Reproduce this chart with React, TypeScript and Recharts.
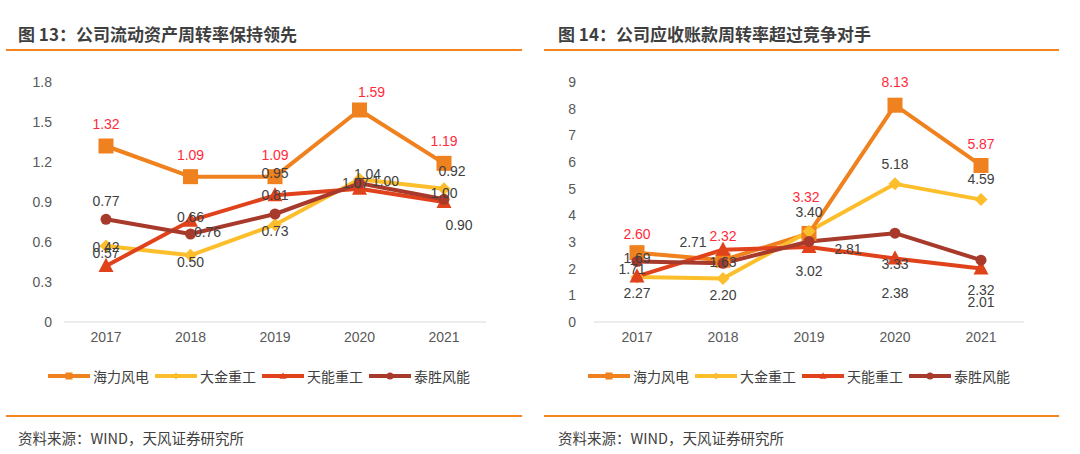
import React from 'react'
import { LineChart, Line, XAxis, YAxis, LabelList } from 'recharts'

const years = ['2017', '2018', '2019', '2020', '2021']
const seriesNames = ['海力风电', '大金重工', '天能重工', '泰胜风能']

// 图13 流动资产周转率
const assetHaili = [1.32, 1.09, 1.09, 1.59, 1.19]
const assetDajin = [0.57, 0.5, 0.73, 1.07, 1.0]
const assetTianneng = [0.42, 0.76, 0.95, 1.0, 0.9]
const assetTaisheng = [0.77, 0.66, 0.81, 1.04, 0.92]
const assetTicks = [0, 0.3, 0.6, 0.9, 1.2, 1.5, 1.8]

// 图14 应收账款周转率
const recvHaili = [2.6, 2.32, 3.32, 8.13, 5.87]
const recvDajin = [1.69, 1.63, 3.4, 5.18, 4.59]
const recvTianneng = [1.71, 2.71, 2.81, 2.38, 2.01]
const recvTaisheng = [2.27, 2.2, 3.02, 3.33, 2.32]
const recvTicks = [0, 1, 2, 3, 4, 5, 6, 7, 8, 9]

const keys = ['haili', 'dajin', 'tianneng', 'taisheng']
const colors = ['#F0811F', '#FDBE2C', '#E0421B', '#A83A2B']
const shapes = ['square', 'diamond', 'triangle', 'circle']
const labelColors = ['#FF2B3A', '#404040', '#404040', '#404040']

// label offsets (dx, dy) from each point, as placed in the original
const assetOffsets = [
  [[0, -22], [0, -22], [0, -22], [12, -18], [0, -22]],
  [[0, 7], [0, 7], [0, 6], [-4, 4], [0, 4]],
  [[0, -19], [17, 11], [0, -22], [26, -8], [15, 23]],
  [[0, -18], [0, -17], [0, -19], [8, -9], [8, -28]],
]
const recvOffsets = [
  [[0, -19], [0, -24], [-3, -36], [0, -23], [0, -21]],
  [[0, -19], [0, -17], [0, -19], [0, -20], [0, -21]],
  [[-5, -7], [-30, -8], [39, 2], [0, 34], [0, 34]],
  [[0, 32], [0, 32], [0, 30], [0, 31], [0, 30]],
]

const font = '"Liberation Sans", Arial, "Noto Sans CJK SC", sans-serif'
const cjk = '"Noto Sans CJK SC", "Liberation Sans", sans-serif'

const buildRows = (a: number[], b: number[], c: number[], d: number[]) =>
  years.map((year, i) => ({ year, haili: a[i], dajin: b[i], tianneng: c[i], taisheng: d[i] }))

const assetRows = buildRows(assetHaili, assetDajin, assetTianneng, assetTaisheng)
const recvRows = buildRows(recvHaili, recvDajin, recvTianneng, recvTaisheng)

function Marker({ shape, cx, cy, color, s }: any) {
  if (cx == null || cy == null) return null
  if (shape === 'square') return <rect x={cx - s / 2} y={cy - s / 2} width={s} height={s} fill={color} />
  if (shape === 'diamond')
    return <polygon points={`${cx},${cy - s / 2} ${cx + s / 2},${cy} ${cx},${cy + s / 2} ${cx - s / 2},${cy}`} fill={color} />
  if (shape === 'triangle')
    return <polygon points={`${cx},${cy - s * 0.55} ${cx + s / 2},${cy + s * 0.4} ${cx - s / 2},${cy + s * 0.4}`} fill={color} />
  return <circle cx={cx} cy={cy} r={s / 2} fill={color} />
}

const markerSizes = [15, 13, 15, 11]

function Chart({ rows, ticks, max, offsets, yWidth, rightMargin, pad, fmt }: any) {
  return (
    <LineChart width={540} height={360} data={rows} margin={{ top: 82, right: rightMargin, bottom: 8, left: 0 }}>
      <XAxis
        dataKey="year"
        axisLine={{ stroke: '#D9D9D9' }}
        tickLine={false}
        tickMargin={4}
        height={30}
        padding={{ left: pad, right: pad }}
        tick={{ fill: '#595959', fontSize: 14, fontFamily: font }}
      />
      <YAxis
        domain={[0, max]}
        ticks={ticks}
        width={yWidth}
        axisLine={false}
        tickLine={false}
        tickMargin={yWidth === 64 ? 6 : 12}
        tickFormatter={fmt}
        tick={{ fill: '#595959', fontSize: 14, fontFamily: font }}
      />
      {keys.map((k, si) => (
        <Line
          key={k}
          dataKey={k}
          stroke={colors[si]}
          strokeWidth={4}
          strokeLinejoin="round"
          isAnimationActive={false}
          dot={(p: any) => <Marker key={p.index} shape={shapes[si]} cx={p.cx} cy={p.cy} color={colors[si]} s={markerSizes[si]} />}
          activeDot={false}
        >
          <LabelList
            dataKey={k}
            content={(p: any) => {
              const x = p.x ?? p.viewBox?.x
              const y = p.y ?? p.viewBox?.y
              if (x == null || y == null) return null
              const [dx, dy] = offsets[si][p.index] || [0, -20]
              return (
                <text
                  x={x + dx}
                  y={y + dy}
                  textAnchor="middle"
                  dominantBaseline="central"
                  fill={labelColors[si]}
                  fontSize={14}
                  fontFamily={font}
                >
                  {Number(p.value).toFixed(2)}
                </text>
              )
            }}
          />
        </Line>
      ))}
    </LineChart>
  )
}

function Legend({ left }: { left: number }) {
  return (
    <div style={{ position: 'absolute', left, top: 366, display: 'flex', alignItems: 'center', height: 20 }}>
      {seriesNames.map((name, i) => (
        <div key={name} style={{ display: 'flex', alignItems: 'center', marginRight: 6 }}>
          <svg width={42} height={12}>
            <line x1={0} y1={6} x2={42} y2={6} stroke={colors[i]} strokeWidth={4} />
            <Marker shape={shapes[i]} cx={21} cy={6} color={colors[i]} s={7} />
          </svg>
          <span style={{ marginLeft: 3, fontSize: 14, color: '#404040', fontFamily: cjk }}>{name}</span>
        </div>
      ))}
    </div>
  )
}

function Panel({ left, title, lineLeft, lineWidth, children }: any) {
  return (
    <>
      <div
        style={{
          position: 'absolute',
          left: left + 18,
          top: 21,
          fontSize: 17,
          fontWeight: 'bold',
          color: '#3F3F3F',
          fontFamily: cjk,
          whiteSpace: 'nowrap',
        }}
      >
        {title}
      </div>
      <div style={{ position: 'absolute', left: lineLeft, top: 49, width: lineWidth, height: 2, background: '#F5841F' }} />
      <div style={{ position: 'absolute', left, top: 0 }}>{children}</div>
      <Legend left={left + 48} />
      <div style={{ position: 'absolute', left: lineLeft, top: 415, width: lineWidth, height: 2, background: '#F5841F' }} />
      <div
        style={{
          position: 'absolute',
          left: left + 18,
          top: 427,
          fontSize: 14.5,
          color: '#404040',
          fontFamily: cjk,
          whiteSpace: 'nowrap',
        }}
      >
        资料来源：WIND，天风证券研究所
      </div>
    </>
  )
}

export default function App() {
  return (
    <div style={{ position: 'absolute', left: 0, top: 0, width: 1080, height: 454, background: '#fff', overflow: 'hidden' }}>
      <Panel left={0} title="图 13：公司流动资产周转率保持领先" lineLeft={6} lineWidth={516}>
        <Chart
          rows={assetRows}
          ticks={assetTicks}
          max={1.8}
          offsets={assetOffsets}
          yWidth={64}
          rightMargin={54}
          pad={42}
          fmt={(v: number) => (v === 0 ? '0' : v.toFixed(1))}
        />
      </Panel>
      <Panel left={540} title="图 14：公司应收账款周转率超过竞争对手" lineLeft={544} lineWidth={515}>
        <Chart
          rows={recvRows}
          ticks={recvTicks}
          max={9}
          offsets={recvOffsets}
          yWidth={54}
          rightMargin={56}
          pad={43}
          fmt={(v: number) => String(v)}
        />
      </Panel>
    </div>
  )
}
